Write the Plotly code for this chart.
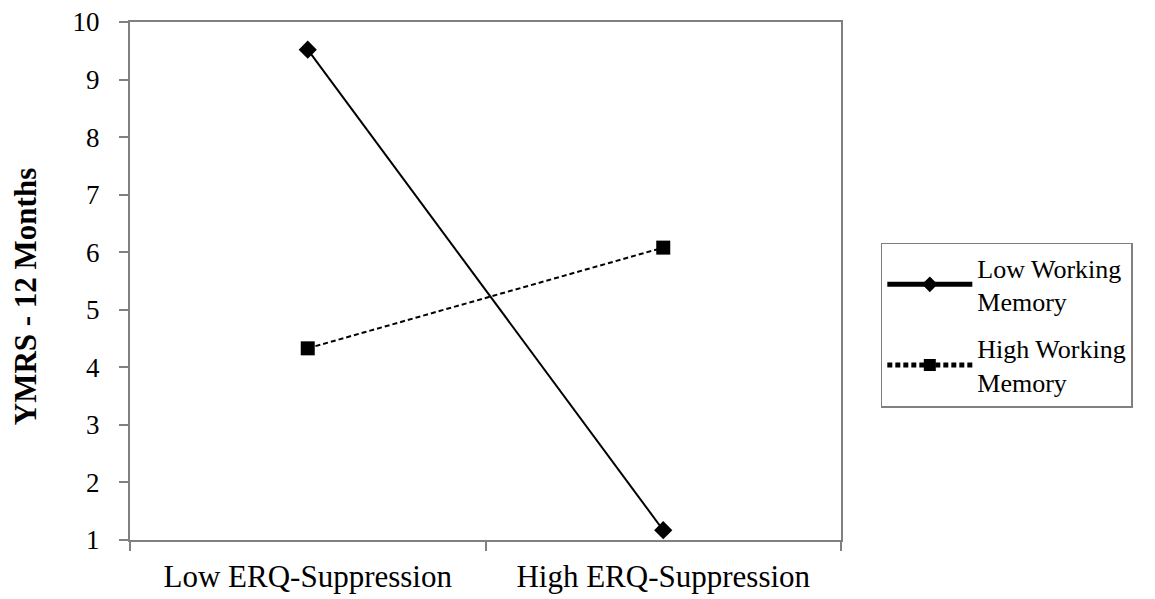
import plotly.graph_objects as go

categories = ["Low ERQ-Suppression", "High ERQ-Suppression"]
low_wm = [9.52, 1.17]
high_wm = [4.33, 6.08]
series_names = ["Low Working<br>Memory", "High Working<br>Memory"]
y_ticks = [1, 2, 3, 4, 5, 6, 7, 8, 9, 10]

FONT = "Liberation Serif, Times New Roman, serif"

fig = go.Figure()
fig.add_trace(go.Scatter(
    x=categories, y=low_wm, name=series_names[0], mode="lines+markers",
    legendgroup="low",
    line=dict(color="black", width=2),
    marker=dict(symbol="diamond", size=14, color="black"),
))
fig.add_trace(go.Scatter(
    x=categories, y=high_wm, name=series_names[1], mode="lines+markers",
    legendgroup="high",
    line=dict(color="black", width=2, dash="5px,3px"),
    marker=dict(symbol="square", size=14, color="black"),
))

# page body has an 8px margin, so the figure is shrunk by 8px and margins shifted
fig.update_layout(
    width=1147, height=591,
    margin=dict(l=122, r=314, t=14, b=59, autoexpand=False),
    plot_bgcolor="white", paper_bgcolor="white",
    font=dict(family=FONT, size=26, color="black"),
    showlegend=True,
    legend=dict(
        x=1.056, y=0.415, xanchor="left", yanchor="middle",
        bordercolor="#808080", borderwidth=1.5, bgcolor="white",
        font=dict(family=FONT, size=26, color="black"),
        tracegroupgap=10, itemsizing="constant", itemwidth=85,
    ),
)
fig.update_xaxes(
    type="category", range=[-0.5, 1.5], automargin=False,
    showline=True, linecolor="#808080", linewidth=2, mirror=True,
    ticks="outside", tickson="boundaries", ticklen=9, tickcolor="#808080", tickwidth=1.5,
    showgrid=False, zeroline=False, ticklabelstandoff=8,
    tickfont=dict(family=FONT, size=31, color="black"),
)
fig.update_yaxes(
    range=[1, 10], tickvals=y_ticks, automargin=False,
    showline=True, linecolor="#808080", linewidth=2, mirror=True,
    ticks="outside", ticklen=9, tickcolor="#808080", tickwidth=1.5,
    showgrid=False, zeroline=False, ticklabelstandoff=14, ticklabeloverflow="allow",
    tickfont=dict(family=FONT, size=27, color="black"),
    title=dict(text="<b>YMRS - 12 Months\u00a0\u00a0\u00a0\u00a0</b>",
               font=dict(family=FONT, size=31, color="black"), standoff=28),
)

fig.write_html("out.html")
